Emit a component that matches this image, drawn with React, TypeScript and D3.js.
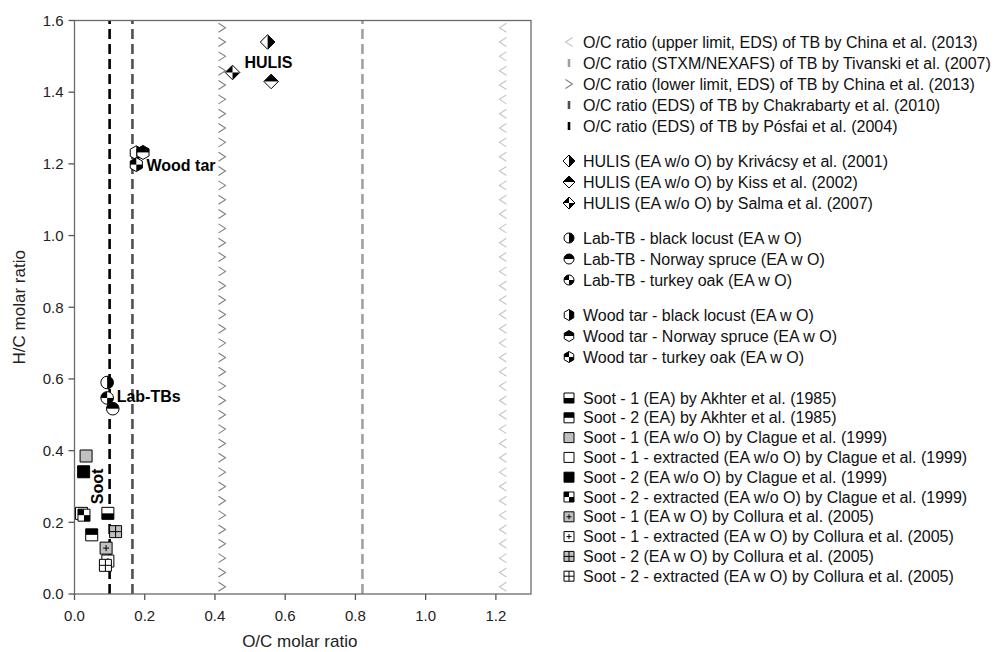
import React from 'react';
import * as d3 from 'd3';

// axis ticks
const xTicks = [0, 0.2, 0.4, 0.6, 0.8, 1.0, 1.2];
const yTicks = [0, 0.2, 0.4, 0.6, 0.8, 1.0, 1.2, 1.4, 1.6];

// O/C reference values of tar balls from the literature
const upperLimitOC = 1.22;
const tivanskiOC = 0.82;
const lowerLimitOC = 0.42;
const chakrabartyOC = 0.165;
const posfaiOC = 0.10;

// positions of the < and > markers along the limit lines (H/C)
const limitMarksHC = [
  0.02, 0.06, 0.10, 0.14, 0.18, 0.22, 0.26, 0.30, 0.34, 0.38,
  0.42, 0.46, 0.50, 0.54, 0.58, 0.62, 0.66, 0.70, 0.74, 0.78,
  0.82, 0.86, 0.90, 0.94, 0.98, 1.02, 1.06, 1.10, 1.14, 1.18,
  1.22, 1.26, 1.30, 1.34, 1.38, 1.42, 1.46, 1.50, 1.54, 1.58,
];

// HULIS: Krivácsy, Kiss, Salma
const hulisOC = [0.55, 0.56, 0.45];
const hulisHC = [1.54, 1.43, 1.455];

// Lab-TB: black locust, Norway spruce, turkey oak
const labOC = [0.093, 0.109, 0.093];
const labHC = [0.59, 0.517, 0.547];

// Wood tar: black locust, Norway spruce, turkey oak
const woodOC = [0.176, 0.195, 0.176];
const woodHC = [1.231, 1.232, 1.198];

// Soot, in legend order
const sootOC = [0.095, 0.049, 0.033, 0.02, 0.026, 0.027, 0.09, 0.095, 0.117, 0.088];
const sootHC = [0.225, 0.165, 0.385, 0.225, 0.341, 0.22, 0.128, 0.092, 0.174, 0.08];

const lineLabels = [
  'O/C ratio (upper limit, EDS) of TB by China et al. (2013)',
  'O/C ratio (STXM/NEXAFS) of TB by Tivanski et al. (2007)',
  'O/C ratio (lower limit, EDS) of TB by China et al. (2013)',
  'O/C ratio (EDS) of TB by Chakrabarty et al. (2010)',
  'O/C ratio (EDS) of TB by Pósfai et al. (2004)',
];
const hulisLabels = [
  'HULIS (EA w/o O) by Krivácsy et al. (2001)',
  'HULIS (EA w/o O) by Kiss et al. (2002)',
  'HULIS (EA w/o O) by Salma et al. (2007)',
];
const labLabels = [
  'Lab-TB - black locust (EA w O)',
  'Lab-TB - Norway spruce (EA w O)',
  'Lab-TB -  turkey oak (EA w O)',
];
const woodLabels = [
  'Wood tar - black locust (EA w O)',
  'Wood tar - Norway spruce (EA w O)',
  'Wood tar -  turkey oak (EA w O)',
];
const sootLabels = [
  'Soot - 1 (EA) by Akhter et al. (1985)',
  'Soot - 2 (EA) by Akhter et al. (1985)',
  'Soot - 1 (EA w/o O) by Clague et al. (1999)',
  'Soot - 1 - extracted (EA w/o O) by Clague et al. (1999)',
  'Soot - 2 (EA w/o O) by Clague et al. (1999)',
  'Soot - 2 - extracted (EA w/o O) by Clague et al. (1999)',
  'Soot - 1 (EA w O) by Collura et al. (2005)',
  'Soot - 1 - extracted (EA w O) by Collura et al. (2005)',
  'Soot - 2 (EA w O) by Collura et al. (2005)',
  'Soot - 2 - extracted (EA w O) by Collura et al. (2005)',
];

type Shape = 'diamond' | 'circle' | 'square' | 'hexagon';
type Fill = 'right' | 'top' | 'bottom' | 'quarter' | 'white' | 'black' | 'gray'
  | 'plusGray' | 'plusWhite' | 'gridGray' | 'gridWhite';

const threeFills: Fill[] = ['right', 'top', 'quarter'];
const sootFills: Fill[] = ['bottom', 'top', 'gray', 'white', 'black', 'quarter',
  'plusGray', 'plusWhite', 'gridGray', 'gridWhite'];

const FONT = '"Liberation Sans", Arial, sans-serif';
const GRAY_FILL = '#c0c0c0';

const shapePath = (shape: Shape, r: number) => {
  if (shape === 'circle') return `M${-r},0A${r},${r} 0 1,0 ${r},0A${r},${r} 0 1,0 ${-r},0Z`;
  if (shape === 'square') return `M${-r},${-r}H${r}V${r}H${-r}Z`;
  if (shape === 'diamond') return `M0,${-r}L${r},0L0,${r}L${-r},0Z`;
  const pts = d3.range(6).map(i => {
    const a = (Math.PI / 3) * i - Math.PI / 2;
    return [r * Math.cos(a), r * Math.sin(a)];
  });
  return 'M' + pts.map(p => p.join(',')).join('L') + 'Z';
};

let clipCount = 0;

function Marker({ shape, fill, x, y, r }: { shape: Shape; fill: Fill; x: number; y: number; r: number }) {
  const d = shapePath(shape, r);
  const id = `mk-clip-${clipCount++}`;
  const base = fill === 'black' ? '#000'
    : (fill === 'gray' || fill === 'plusGray' || fill === 'gridGray') ? GRAY_FILL : '#fff';
  const R = r + 1;
  let dark: React.ReactNode = null;
  if (fill === 'right') dark = <rect x={0} y={-R} width={R} height={2 * R} />;
  if (fill === 'top') dark = <rect x={-R} y={-R} width={2 * R} height={R} />;
  if (fill === 'bottom') dark = <rect x={-R} y={0} width={2 * R} height={R} />;
  if (fill === 'quarter') dark = (
    <>
      <rect x={-R} y={-R} width={R} height={R} />
      <rect x={0} y={0} width={R} height={R} />
    </>
  );
  const plus = fill === 'plusGray' || fill === 'plusWhite' ? r * 0.5
    : fill === 'gridGray' || fill === 'gridWhite' ? r : 0;
  return (
    <g transform={`translate(${x},${y})`}>
      <clipPath id={id}><path d={d} /></clipPath>
      <path d={d} fill={base} />
      {dark && <g clipPath={`url(#${id})`} fill="#000">{dark}</g>}
      {plus > 0 && (
        <path d={`M${-plus},0H${plus}M0,${-plus}V${plus}`} stroke="#000" strokeWidth={1} />
      )}
      <path d={d} fill="none" stroke="#000" strokeWidth={1} />
    </g>
  );
}

const Chevron = ({ x, y, dir, color }: { x: number; y: number; dir: 1 | -1; color: string }) => (
  <path
    d={`M${x - 3.5 * dir},${y - 4.5}L${x + 3.5 * dir},${y}L${x - 3.5 * dir},${y + 4.5}`}
    fill="none" stroke={color} strokeWidth={1.1}
  />
);

export default function App() {
  const width = 995;
  const height = 652;
  const x0 = 74.5, x1 = 531, y0 = 20.5, y1 = 594;

  const x = d3.scaleLinear().domain([0, 1.3]).range([x0, x1]);
  const y = d3.scaleLinear().domain([0, 1.6]).range([y1, y0]);

  const dashed = (v: number, color: string) => (
    <line x1={x(v)} x2={x(v)} y1={y(0)} y2={y(1.6)}
      stroke={color} strokeWidth={2.6} strokeDasharray="10,5" />
  );

  // legend layout
  const lgSym = 569;
  const lgText = 583;
  const lineRows = [42, 63, 84, 105, 126];
  const hulisRows = [161, 182, 203];
  const labRows = [238, 259, 280];
  const woodRows = [315, 336, 357];
  const sootRows = d3.range(10).map(i => 398 + i * 19.8);
  const lineSym = ['upper', 'tiv', 'lower', 'chak', 'pos'];

  const legendText = (t: string, yy: number, k: string) => (
    <text key={k} x={lgText} y={yy} dy="0.35em" fontSize={16} fontFamily={FONT} fill="#111">{t}</text>
  );

  clipCount = 0;

  return (
    <svg width={width} height={height} style={{ display: 'block', position: 'absolute', left: 0, top: 0 }}>
      <rect width={width} height={height} fill="#fff" />

      {/* reference lines */}
      {dashed(tivanskiOC, '#a0a0a0')}
      {dashed(chakrabartyOC, '#505050')}
      {dashed(posfaiOC, '#000')}
      {limitMarksHC.map((v, i) => (
        <Chevron key={'lo' + i} x={x(lowerLimitOC)} y={y(v)} dir={1} color="#808080" />
      ))}
      {limitMarksHC.map((v, i) => (
        <Chevron key={'up' + i} x={x(upperLimitOC)} y={y(v)} dir={-1} color="#c4c4c4" />
      ))}

      {/* frame and axes */}
      <rect x={x0} y={y0} width={x1 - x0} height={y1 - y0} fill="none" stroke="#6a6a6a" strokeWidth={1.3} />
      {xTicks.map(t => (
        <g key={'xt' + t}>
          <line x1={x(t)} x2={x(t)} y1={y1} y2={y1 + 6} stroke="#555" strokeWidth={1.3} />
          <text x={x(t)} y={y1 + 22} dy="0.35em" textAnchor="middle" fontSize={15} fontFamily={FONT} fill="#222">{t.toFixed(1)}</text>
        </g>
      ))}
      {yTicks.map(t => (
        <g key={'yt' + t}>
          <line x1={x0 - 6} x2={x0} y1={y(t)} y2={y(t)} stroke="#555" strokeWidth={1.3} />
          <text x={x0 - 11} y={y(t)} dy="0.35em" textAnchor="end" fontSize={15} fontFamily={FONT} fill="#222">{t.toFixed(1)}</text>
        </g>
      ))}
      <text x={(x0 + x1) / 2 - 3} y={641} dy="0.35em" textAnchor="middle" fontSize={17} fontFamily={FONT} fill="#222">O/C molar ratio</text>
      <text transform={`translate(19,${(y0 + y1) / 2}) rotate(-90)`} dy="0.35em" textAnchor="middle" fontSize={17} fontFamily={FONT} fill="#222">H/C molar ratio</text>

      {/* data points */}
      {sootOC.map((v, i) => (
        <Marker key={'s' + i} shape="square" fill={sootFills[i]} x={x(v)} y={y(sootHC[i])} r={6} />
      ))}
      {labOC.map((v, i) => (
        <Marker key={'l' + i} shape="circle" fill={threeFills[i]} x={x(v)} y={y(labHC[i])} r={6.3} />
      ))}
      {woodOC.map((v, i) => (
        <Marker key={'w' + i} shape="hexagon" fill={threeFills[i]} x={x(v)} y={y(woodHC[i])} r={7} />
      ))}
      {hulisOC.map((v, i) => (
        <Marker key={'h' + i} shape="diamond" fill={threeFills[i]} x={x(v)} y={y(hulisHC[i])} r={7.3} />
      ))}

      {/* group labels */}
      <g fontFamily={FONT} fontWeight="bold" fontSize={16} fill="#000">
        <text x={x(0.484)} y={y(1.482)} dy="0.35em">HULIS</text>
        <text x={x(0.205)} y={y(1.195)} dy="0.35em">Wood tar</text>
        <text x={x(0.12)} y={y(0.55)} dy="0.35em">Lab-TBs</text>
        <text transform={`translate(${x(0.0655)},${y(0.3)}) rotate(-90)`} dy="0.35em" textAnchor="middle">Soot</text>
      </g>

      {/* legend */}
      {lineRows.map((yy, i) => {
        const s = lineSym[i];
        let sym: React.ReactNode;
        if (s === 'upper') sym = <Chevron x={lgSym} y={yy} dir={-1} color="#c4c4c4" />;
        else if (s === 'lower') sym = <Chevron x={lgSym} y={yy} dir={1} color="#808080" />;
        else {
          const c = s === 'tiv' ? '#a0a0a0' : s === 'chak' ? '#505050' : '#000';
          sym = <line x1={lgSym} x2={lgSym} y1={yy - 4} y2={yy + 4} stroke={c} strokeWidth={2.6} />;
        }
        return <g key={'ll' + i}>{sym}{legendText(lineLabels[i], yy, 'llt' + i)}</g>;
      })}
      {hulisRows.map((yy, i) => (
        <g key={'hl' + i}>
          <Marker shape="diamond" fill={threeFills[i]} x={lgSym} y={yy} r={6} />
          {legendText(hulisLabels[i], yy, 'hlt' + i)}
        </g>
      ))}
      {labRows.map((yy, i) => (
        <g key={'lb' + i}>
          <Marker shape="circle" fill={threeFills[i]} x={lgSym} y={yy} r={5} />
          {legendText(labLabels[i], yy, 'lbt' + i)}
        </g>
      ))}
      {woodRows.map((yy, i) => (
        <g key={'wl' + i}>
          <Marker shape="hexagon" fill={threeFills[i]} x={lgSym} y={yy} r={5.5} />
          {legendText(woodLabels[i], yy, 'wlt' + i)}
        </g>
      ))}
      {sootRows.map((yy, i) => (
        <g key={'sl' + i}>
          <Marker shape="square" fill={sootFills[i]} x={lgSym} y={yy} r={5} />
          {legendText(sootLabels[i], yy, 'slt' + i)}
        </g>
      ))}
    </svg>
  );
}
